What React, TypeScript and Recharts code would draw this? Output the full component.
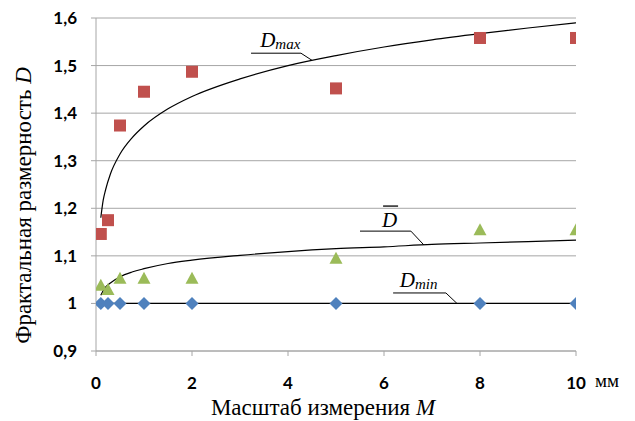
import React from "react";
import {
  ComposedChart,
  Line,
  Scatter,
  XAxis,
  YAxis,
  CartesianGrid,
  ReferenceLine,
  ReferenceDot,
  Label,
} from "recharts";

// Measurement scales M, mm
const scales = [0.1, 0.25, 0.5, 1, 2, 5, 8, 10];
// Fractal dimension values
const dMaxValues = [1.146, 1.175, 1.374, 1.445, 1.487, 1.452, 1.558, 1.558];
const dMeanValues = [1.037, 1.028, 1.052, 1.052, 1.052, 1.094, 1.154, 1.154];
const dMinValues = [1, 1, 1, 1, 1, 1, 1, 1];

// Trend curves
const trendX = [0.1, 0.15, 0.2, 0.3, 0.5, 0.75, 1, 1.5, 2, 3, 4, 5, 6, 7, 8, 9, 10];
const dMaxTrend = [1.18, 1.217, 1.239, 1.272, 1.314, 1.348, 1.373, 1.409, 1.435, 1.472, 1.5, 1.521, 1.539, 1.554, 1.567, 1.579, 1.59];
const dMeanTrend = [1.017, 1.027, 1.034, 1.043, 1.056, 1.066, 1.073, 1.084, 1.091, 1.101, 1.109, 1.115, 1.119, 1.124, 1.127, 1.13, 1.133];
const dMinTrend = [1, 1, 1, 1, 1, 1, 1, 1, 1, 1, 1, 1, 1, 1, 1, 1, 1];

const xTicks = [0, 2, 4, 6, 8, 10];
const yTicks = [0.9, 1.0, 1.1, 1.2, 1.3, 1.4, 1.5, 1.6];

const toPts = (xs: number[], ys: number[]) => xs.map((x, i) => ({ x, y: ys[i] }));

const maxPts = toPts(scales, dMaxValues);
const meanPts = toPts(scales, dMeanValues);
const minPts = toPts(scales, dMinValues);
const maxTrendPts = toPts(trendX, dMaxTrend);
const meanTrendPts = toPts(trendX, dMeanTrend);
const minTrendPts = toPts(trendX, dMinTrend);

const RED = "#C0504D";
const GREEN = "#9BBB59";
const BLUE = "#4F81BD";
const GRID = "#A6A6A6";
const SERIF = "'Liberation Serif', 'DejaVu Serif', serif";
const TICKFONT = "Lato, 'Open Sans', sans-serif";

const Square = (p: any) => (
  <rect x={p.cx - 6} y={p.cy - 6} width={12} height={12} fill={RED} />
);
const Triangle = (p: any) => (
  <polygon
    points={`${p.cx},${p.cy - 7} ${p.cx + 6.5},${p.cy + 5} ${p.cx - 6.5},${p.cy + 5}`}
    fill={GREEN}
  />
);
const Diamond = (p: any) => (
  <polygon
    points={`${p.cx},${p.cy - 6.5} ${p.cx + 6.5},${p.cy} ${p.cx},${p.cy + 6.5} ${p.cx - 6.5},${p.cy}`}
    fill={BLUE}
  />
);

const fmtY = (v: number) => (Math.abs(v - 1) < 1e-9 ? "1" : v.toFixed(1).replace(".", ","));

const YTitle = (props: any) => {
  const vb = props.viewBox;
  const cx = vb.x + 19;
  const cy = vb.y + vb.height / 2 + 21;
  return (
    <text
      x={cx}
      y={cy}
      transform={`rotate(-90, ${cx}, ${cy})`}
      textAnchor="middle"
      fontFamily={SERIF}
      fontSize={23}
      fill="#000"
    >
      Фрактальная размерность <tspan fontStyle="italic">D</tspan>
    </text>
  );
};

const XTitle = (props: any) => {
  const vb = props.viewBox;
  return (
    <g>
      <text
        x={vb.x + vb.width / 2 - 13}
        y={vb.y + 64}
        textAnchor="middle"
        fontFamily={SERIF}
        fontSize={23}
        fill="#000"
      >
        Масштаб измерения <tspan fontStyle="italic">M</tspan>
      </text>
      <text x={vb.x + vb.width + 19} y={vb.y + 36} fontFamily={SERIF} fontSize={19} fill="#000">
        мм
      </text>
    </g>
  );
};

const SubLabel = (main: string, sub: string, bar?: boolean) => (props: any) => {
  const vb = props.viewBox;
  const x = vb.x + (vb.width || 0) / 2;
  const y = vb.y + (vb.height || 0) / 2;
  return (
    <g>
      {bar && <line x1={x + 1} y1={y - 21} x2={x + 16} y2={y - 21} stroke="#000" strokeWidth={1.3} />}
      <text x={x} y={y} fontFamily={SERIF} fontStyle="italic" fontSize={21} fill="#000">
        {main}
        {sub && (
          <tspan fontSize={15} dy={2}>
            {sub}
          </tspan>
        )}
      </text>
    </g>
  );
};

export default function App() {
  return (
    <ComposedChart
      width={620}
      height={413}
      margin={{ top: 10, right: 52, left: 4, bottom: 40 }}
    >
      <CartesianGrid horizontal vertical={false} stroke={GRID} strokeWidth={1} />
      <XAxis
        type="number"
        dataKey="x"
        domain={[0, 10]}
        ticks={xTicks}
        allowDataOverflow
        height={30}
        stroke={GRID}
        tickSize={5}
        tickMargin={21}
        tick={{ fill: "#000", fontFamily: TICKFONT, fontWeight: 700, fontSize: 17 }}
        tickLine={{ stroke: GRID }}
        axisLine={{ stroke: GRID }}
      >
        <Label content={XTitle} />
      </XAxis>
      <YAxis
        type="number"
        dataKey="y"
        domain={[0.9, 1.6]}
        ticks={yTicks}
        allowDataOverflow
        width={84}
        tickFormatter={fmtY}
        stroke={GRID}
        tickSize={5}
        tickMargin={14}
        tick={{ fill: "#000", fontFamily: TICKFONT, fontWeight: 700, fontSize: 17 }}
        tickLine={{ stroke: GRID }}
        axisLine={{ stroke: GRID }}
      >
        <Label content={YTitle} />
      </YAxis>

      <Line data={maxTrendPts} dataKey="y" type="monotone" stroke="#000" strokeWidth={1.2} dot={false} isAnimationActive={false} />
      <Line data={meanTrendPts} dataKey="y" type="monotone" stroke="#000" strokeWidth={1.2} dot={false} isAnimationActive={false} />
      <Line data={minTrendPts} dataKey="y" type="linear" stroke="#000" strokeWidth={1.2} dot={false} isAnimationActive={false} />

      <Scatter data={maxPts} dataKey="y" shape={Square} isAnimationActive={false} />
      <Scatter data={meanPts} dataKey="y" shape={Triangle} isAnimationActive={false} />
      <Scatter data={minPts} dataKey="y" shape={Diamond} isAnimationActive={false} />

      {/* leader lines */}
      <ReferenceLine segment={[{ x: 3.23, y: 1.526 }, { x: 4.27, y: 1.526 }]} stroke="#000" strokeWidth={1} />
      <ReferenceLine segment={[{ x: 4.27, y: 1.526 }, { x: 4.5, y: 1.511 }]} stroke="#000" strokeWidth={1} />
      <ReferenceLine segment={[{ x: 5.5, y: 1.152 }, { x: 6.56, y: 1.152 }]} stroke="#000" strokeWidth={1} />
      <ReferenceLine segment={[{ x: 6.56, y: 1.152 }, { x: 6.83, y: 1.123 }]} stroke="#000" strokeWidth={1} />
      <ReferenceLine segment={[{ x: 6.19, y: 1.022 }, { x: 7.29, y: 1.022 }]} stroke="#000" strokeWidth={1} />
      <ReferenceLine segment={[{ x: 7.29, y: 1.022 }, { x: 7.52, y: 1.0 }]} stroke="#000" strokeWidth={1} />

      {/* curve labels */}
      <ReferenceDot x={3.42} y={1.539} r={0} fill="none" stroke="none" label={{ content: SubLabel("D", "max") }} />
      <ReferenceDot x={5.96} y={1.1605} r={0} fill="none" stroke="none" label={{ content: SubLabel("D", "", true) }} />
      <ReferenceDot x={6.33} y={1.0345} r={0} fill="none" stroke="none" label={{ content: SubLabel("D", "min") }} />
    </ComposedChart>
  );
}
